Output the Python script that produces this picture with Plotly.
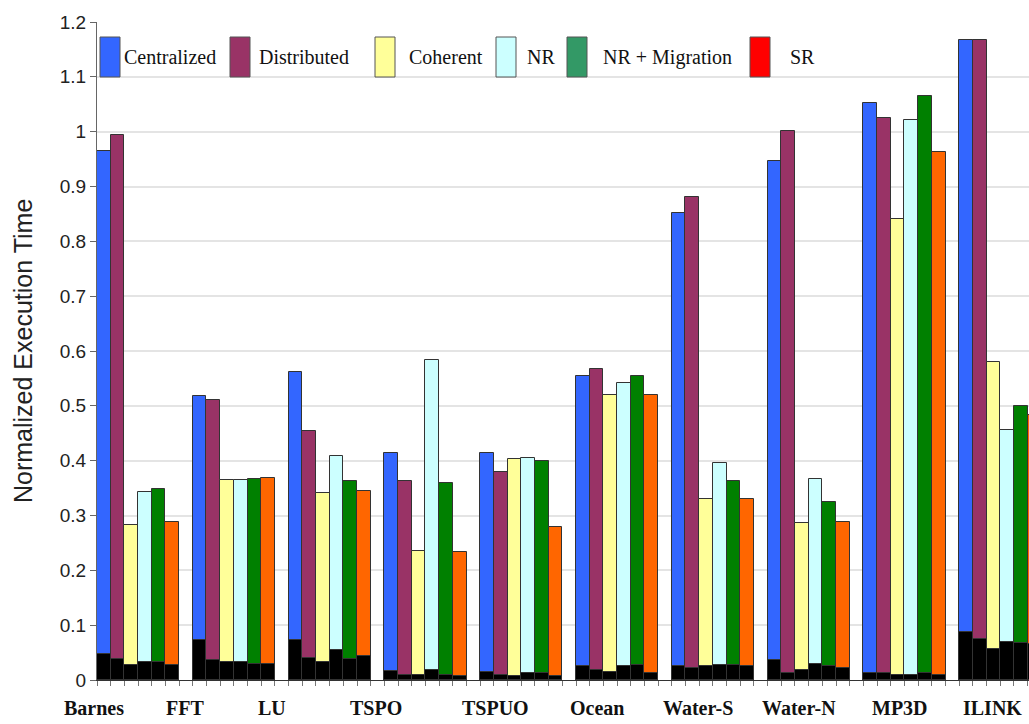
import plotly.graph_objects as go

# Benchmarks and protocol configurations
benchmarks = ["Barnes", "FFT", "LU", "TSPO", "TSPUO", "Ocean",
              "Water-S", "Water-N", "MP3D", "ILINK"]
series_names = ["Centralized", "Distributed", "Coherent", "NR",
                "NR + Migration", "SR"]

# Normalized execution time (bar totals)
centralized = [0.965, 0.518, 0.561, 0.414, 0.414, 0.555, 0.852, 0.947, 1.052, 1.167]
distributed = [0.994, 0.510, 0.455, 0.363, 0.380, 0.567, 0.881, 1.002, 1.025, 1.167]
coherent = [0.283, 0.365, 0.341, 0.235, 0.403, 0.519, 0.330, 0.286, 0.841, 0.580]
nr = [0.343, 0.365, 0.408, 0.584, 0.405, 0.541, 0.396, 0.366, 1.022, 0.456]
nr_migration = [0.348, 0.366, 0.363, 0.360, 0.400, 0.555, 0.363, 0.325, 1.065, 0.500]
sr = [0.288, 0.368, 0.345, 0.234, 0.279, 0.520, 0.330, 0.288, 0.963, 0.483]

# Lower (black) component of each bar
centralized_low = [0.047, 0.073, 0.073, 0.016, 0.015, 0.026, 0.026, 0.036, 0.013, 0.087]
distributed_low = [0.038, 0.036, 0.041, 0.009, 0.009, 0.018, 0.021, 0.013, 0.013, 0.075]
coherent_low = [0.027, 0.033, 0.032, 0.009, 0.008, 0.015, 0.026, 0.018, 0.009, 0.057]
nr_low = [0.032, 0.033, 0.055, 0.018, 0.013, 0.026, 0.028, 0.030, 0.009, 0.069]
nr_migration_low = [0.032, 0.030, 0.038, 0.009, 0.013, 0.027, 0.027, 0.026, 0.013, 0.067]
sr_low = [0.028, 0.030, 0.043, 0.008, 0.007, 0.013, 0.026, 0.021, 0.009, 0.065]

y_tick_vals = [0, 0.1, 0.2, 0.3, 0.4, 0.5, 0.6, 0.7, 0.8, 0.9, 1.0, 1.1, 1.2]
y_tick_text = ["0", "0.1", "0.2", "0.3", "0.4", "0.5", "0.6", "0.7", "0.8",
               "0.9", "1", "1.1", "1.2"]

totals = [centralized, distributed, coherent, nr, nr_migration, sr]
lows = [centralized_low, distributed_low, coherent_low, nr_low,
        nr_migration_low, sr_low]

bar_colors = ["#3366ff", "#993366", "#ffff99", "#ccffff", "#008000", "#ff6600"]
key_colors = ["#3366ff", "#993366", "#ffff99", "#ccffff", "#339966", "#ff0000"]

SLOTS_PER_GROUP = 7  # six bars plus one empty slot between groups
X_MAX = 68.1
# label centres along the category axis (in bar-slot units)
label_pos = [-0.2, 6.4, 12.8, 20.4, 29.1, 36.5, 43.9, 51.3, 58.7, 65.4]

fig = go.Figure()

for s, (name, tot, low) in enumerate(zip(series_names, totals, lows)):
    xs = [g * SLOTS_PER_GROUP + s + 0.5 for g in range(len(benchmarks))]
    fig.add_trace(go.Bar(
        x=xs, y=tot, width=1, name=name, showlegend=False,
        marker=dict(color=bar_colors[s], line=dict(color="#333333", width=1)),
    ))
    fig.add_trace(go.Bar(
        x=xs, y=low, width=1, showlegend=False,
        marker=dict(color="#000000", line=dict(color="#333333", width=1)),
    ))

# Category labels under each group (paper coordinates so the first one,
# which hangs left of the axis, is still drawn)
for lbl, pos in zip(benchmarks, label_pos):
    fig.add_annotation(
        x=pos / X_MAX, y=-0.043, xref="paper", yref="paper",
        text="<b>" + lbl + "</b>", showarrow=False,
        xanchor="center", yanchor="middle",
        font=dict(family="Liberation Serif", size=20, color="#111111"),
    )

# Key along the top of the plot
W, H = 932.0, 658.0
key_left = [100, 230, 375, 496, 567, 750]
key_text = [122, 257, 407, 525, 601, 788]
for name, col, xl, xt in zip(series_names, key_colors, key_left, key_text):
    fig.add_shape(
        type="rect", xref="paper", yref="paper",
        x0=(xl - 97) / W, x1=(xl + 20 - 97) / W,
        y0=(680 - 77) / H, y1=(680 - 37) / H,
        fillcolor=col, line=dict(color="#555555", width=1), layer="above",
    )
    fig.add_annotation(
        x=(xt - 97) / W, y=(680 - 57) / H, xref="paper", yref="paper",
        text=name, showarrow=False, xanchor="left", yanchor="middle",
        font=dict(family="Liberation Serif", size=20, color="#111111"),
    )

# Axis title
fig.add_annotation(
    x=(23 - 97) / W, y=0.5, xref="paper", yref="paper",
    text="Normalized Execution Time", textangle=-90, showarrow=False,
    xanchor="center", yanchor="middle",
    font=dict(family="Liberation Sans", size=25, color="#222222"),
)

fig.update_layout(
    width=1029, height=724,
    margin=dict(l=97, r=0, t=22, b=44),
    paper_bgcolor="white", plot_bgcolor="white",
    barmode="overlay", bargap=0,
    xaxis=dict(
        range=[0, X_MAX], showgrid=False, zeroline=False,
        tickmode="array", tickvals=list(range(0, 69)), ticktext=[""] * 69,
        ticks="outside", ticklen=5, tickcolor="#777777",
        showline=True, linecolor="#333333", linewidth=1,
    ),
    yaxis=dict(
        range=[0, 1.2], tickmode="array", tickvals=y_tick_vals,
        ticktext=y_tick_text, ticks="outside", ticklen=6,
        tickcolor="#666666", showline=True, linecolor="#666666",
        linewidth=1, showgrid=True, gridcolor="#e4e4e4", gridwidth=1.5,
        zeroline=False,
        tickfont=dict(family="Liberation Sans", size=19, color="#222222"),
    ),
)

fig.write_html("out.html")
